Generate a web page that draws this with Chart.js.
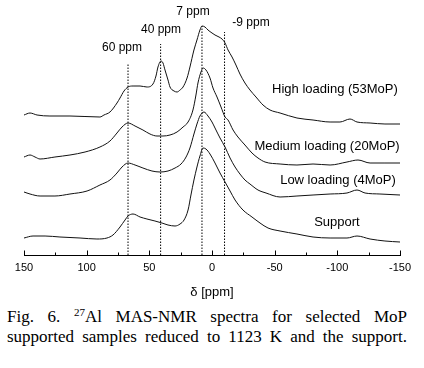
<!DOCTYPE html>
<html><head><meta charset="utf-8">
<script src="https://cdn.jsdelivr.net/npm/chart.js@4.4.1/dist/chart.umd.min.js"></script>
<style>
html,body{margin:0;padding:0;background:#fff;}
#wrap{width:424px;height:368px;position:relative;overflow:hidden;background:#fff;}
canvas{display:block;}
.cap{position:absolute;left:7px;width:400px;font-family:"Liberation Serif","Times New Roman",serif;font-size:17px;line-height:20px;color:#000;text-align:justify;text-align-last:justify;}
.cap sup{font-size:11px;line-height:0;vertical-align:6px;}
</style></head><body>
<div id="wrap">
<canvas id="c" width="424" height="300"></canvas>
<div class="cap" style="top:307px">Fig. 6. <sup>27</sup>Al MAS-NMR spectra for selected MoP</div>
<div class="cap" style="top:327px">supported samples reduced to 1123 K and the support.</div>
</div>
<script>
// chemical shift (ppm) and stacked intensity (arbitrary units)
const highPpm = [150,145.2,139.6,129.3,113.3,89.4,86.2,81.4,75.8,73.4,70.2,67.0,63.0,57.4,51.9,47.1,44.7,43.1,40.7,39.1,37.5,35.1,33.5,30.3,27.9,25.5,23.1,19.9,17.6,14.4,12.0,9.6,8.0,5.6,3.2,0,-2.4,-5.6,-8.0,-10.4,-12.8,-16.0,-19.1,-22.3,-26.3,-30.3,-35.1,-40.7,-46.3,-54.3,-67.8,-80.6,-94.2,-102.1,-110.1,-115.7,-126.1,-138.0,-150];
const highInt = [140,142,140,139,139,138,140,143,152,157,164,168,169,169,168,171,179,188,194,192,185,175,168,164,163,165,168,177,188,205,215,225,229,228,225,222,220,218,216,212,205,198,190,181,172,165,158,150,145,142,137,135,133,133,136,133,132,131,131];

const medPpm = [150,145.2,141.2,137.2,125.3,113.3,101.3,89.4,81.4,75.8,71.8,67.0,61.4,55.1,49.5,43.9,39.1,33.5,27.9,23.1,19.1,15.2,12.8,11.2,8.8,7.2,4.8,1.6,-0.8,-4.0,-7.2,-10.4,-12.8,-16.8,-20.7,-26.3,-31.9,-36.7,-42.3,-54.3,-67.8,-80.6,-94.2,-107.7,-116.5,-126.1,-138,-150];
const medInt = [98,100,98,96,98,100,103,108,114,122,128,132,129,125,121,119,119,120,123,128,133,145,160,172,183,187,185,177,167,158,148,138,135,125,118,110,102,97,93,91,90,91,90,93,95,92,92,92];

const lowPpm = [150,145.2,137.2,125.3,113.3,99.7,89.4,81.4,75.8,71.8,67.0,61.4,55.1,47.9,41.5,35.1,29.5,24.7,20.7,17.6,14.4,12.0,9.6,6.4,3.2,0,-2.4,-6.4,-10.4,-14.4,-18.4,-22.3,-26.3,-30.3,-36.7,-43.1,-54.3,-67.8,-80.6,-94.2,-107.7,-115.7,-122.1,-134.0,-150];
const lowInt = [63,61,59,59,61,64,70,75,82,88,92,90,87,84,83,84,87,91,98,107,121,131,139,143,139,133,127,117,108,97,88,81,75,71,65,62,58,59,60,61,62,65,62,61,60];

const supPpm = [150,142.8,133.2,121.3,105.3,91.8,83.8,79.0,73.4,69.4,67.0,63.0,57.4,51.9,45.5,39.9,35.1,29.5,25.5,22.3,19.1,16.8,14.4,12.0,9.6,7.2,4.8,1.6,-2.4,-6.4,-10.4,-14.4,-18.4,-24.7,-31.9,-38.3,-44.7,-54.3,-67.8,-80.6,-94.2,-107.7,-115.7,-126.1,-138,-150];
const supInt = [17,19,19,18,17,16,17,20,28,35,39,41,38,36,34,32,30,29,31,35,45,60,75,88,99,107,106,101,92,82,73,64,55,45,38,32,27,24,21,18,17,17,19,16,14,13];

// marked peak positions (ppm) and the height of each marker line
const peakPpm = [67, 41, 8, -10];
const peakTop = [191, 211, 229, 223];
const peakLabels = ['60 ppm', '40 ppm', '7 ppm', '-9 ppm'];
const seriesLabels = ['High loading (53MoP)', 'Medium loading (20MoP)', 'Low loading (4MoP)', 'Support'];
const xTicks = [150, 100, 50, 0, -50, -100, -150];

// label anchors in data units
const peakLabelAt = [[71.8, 207], [40.7, 225], [15.2, 243], [-31.1, 232]];
const seriesLabelAt = [[-98.1, 166], [-91.8, 109], [-100.5, 75], [-99.7, 33]];

const pts = (xs, ys) => xs.map((x, i) => ({x, y: ys[i]}));
const curve = (label, xs, ys) => ({label, data: pts(xs, ys), borderColor: '#111', borderWidth: 1, pointRadius: 0, cubicInterpolationMode: 'monotone', fill: false});
const datasets = [
  curve(seriesLabels[0], highPpm, highInt),
  curve(seriesLabels[1], medPpm, medInt),
  curve(seriesLabels[2], lowPpm, lowInt),
  curve(seriesLabels[3], supPpm, supInt)
];
peakPpm.forEach((p, i) => datasets.push({label: peakLabels[i], data: [{x: p, y: 0}, {x: p, y: peakTop[i]}], borderColor: '#000', borderWidth: 1, borderDash: [1.5, 1.5], pointRadius: 0, tension: 0}));

const textPlugin = {
  id: 'texts',
  afterDatasetsDraw(chart) {
    const {ctx, scales: {x, y}, chartArea} = chart;
    ctx.save();
    ctx.fillStyle = '#000';
    ctx.textAlign = 'center';
    ctx.textBaseline = 'middle';
    ctx.font = '12px "Liberation Sans", Arial, sans-serif';
    peakLabels.forEach((t, i) => ctx.fillText(t, x.getPixelForValue(peakLabelAt[i][0]), y.getPixelForValue(peakLabelAt[i][1])));
    ctx.font = '13px "Liberation Sans", Arial, sans-serif';
    seriesLabels.forEach((t, i) => ctx.fillText(t, x.getPixelForValue(seriesLabelAt[i][0]), y.getPixelForValue(seriesLabelAt[i][1])));
    // inward tick marks (major every 50, minor every 25)
    ctx.strokeStyle = '#000';
    ctx.lineWidth = 1;
    const yb = Math.round(chartArea.bottom) + 0.5;
    for (let v = -150; v <= 150; v += 25) {
      const px = Math.round(x.getPixelForValue(v)) + 0.5;
      const len = (v % 50 === 0) ? 5 : 3;
      ctx.beginPath(); ctx.moveTo(px, yb); ctx.lineTo(px, yb - len); ctx.stroke();
    }
    ctx.restore();
  }
};

new Chart(document.getElementById('c'), {
  type: 'line',
  data: {datasets},
  options: {
    responsive: false, animation: false, devicePixelRatio: 1,
    layout: {padding: {left: 24, right: 24, top: 5, bottom: 0}},
    plugins: {legend: {display: false}, tooltip: {enabled: false}},
    scales: {
      x: {
        type: 'linear', min: -150, max: 150, reverse: true,
        afterFit(s) { s.height = 45; },
        afterBuildTicks(s) { s.ticks = xTicks.map(v => ({value: v})); },
        grid: {display: true, drawOnChartArea: false, drawTicks: false},
        border: {display: true, color: '#000', width: 1},
        ticks: {padding: 6, color: '#000', font: {family: '"Liberation Sans", Arial, sans-serif', size: 11}, maxRotation: 0, autoSkip: false},
        title: {display: true, text: 'δ [ppm]', color: '#000', padding: {top: 0, bottom: 0}, font: {family: '"Liberation Sans", Arial, sans-serif', size: 13}}
      },
      y: {display: false, min: 0, max: 250}
    }
  },
  plugins: [textPlugin]
});
</script>
</body></html>
